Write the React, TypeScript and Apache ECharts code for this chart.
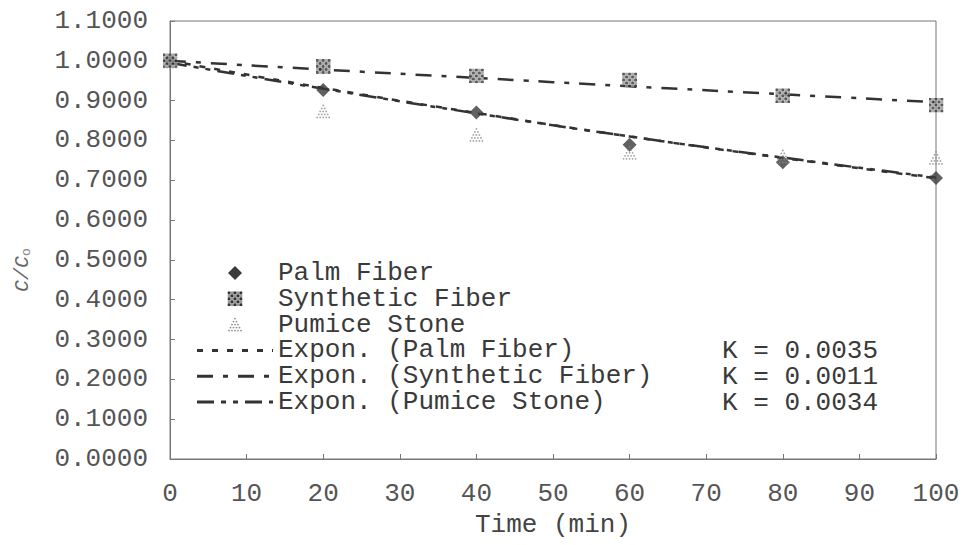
import React, { useEffect, useRef } from "react";
import * as echarts from "echarts";

// ---- data ----
const times = [0, 20, 40, 60, 80, 100];
const palmFiber = [1.0, 0.927, 0.87, 0.789, 0.745, 0.706];
const syntheticFiber = [1.0, 0.986, 0.962, 0.952, 0.912, 0.889];
const pumiceStone = [0.998, 0.873, 0.814, 0.769, 0.76, 0.756];
// exponential trend lines, as drawn in the reference
const palmTrend = [1.0, 0.932, 0.869, 0.81, 0.756, 0.705];
const syntheticTrend = [1.0, 0.978, 0.957, 0.936, 0.916, 0.896];
const pumiceTrend = [0.995, 0.93, 0.868, 0.81, 0.757, 0.707];
const kLabels = ["K = 0.0035", "K = 0.0011", "K = 0.0034"];
const seriesNames = [
  "Palm Fiber",
  "Synthetic Fiber",
  "Pumice Stone",
  "Expon. (Palm Fiber)",
  "Expon. (Synthetic Fiber)",
  "Expon. (Pumice Stone)",
];

const FONT = "'Liberation Mono', 'DejaVu Sans Mono', monospace";
const LINE_COLOR = "#333";
const DASH_PALM = [6, 9];
const DASH_SYN = [16, 10, 5, 10];
const DASH_PUM = [17, 7, 5, 7, 5, 7];

function svgData(svg: string) {
  return "data:image/svg+xml;utf8," + encodeURIComponent(svg);
}

function checkerSvg() {
  let cells = "";
  for (let i = 0; i < 5; i++) {
    for (let j = 0; j < 5; j++) {
      const dark = (i + j) % 2 === 0;
      cells += `<circle cx="${j * 3 + 1.5}" cy="${i * 3 + 1.5}" r="1.55" fill="${dark ? "#333" : "#9a9a9a"}"/>`;
    }
  }
  return svgData(
    `<svg xmlns="http://www.w3.org/2000/svg" width="15" height="15" viewBox="0 0 15 15"><rect width="15" height="15" fill="#bdbdbd"/>${cells}</svg>`
  );
}

function dottedTriangleSvg() {
  let dots = "";
  for (let r = 0; r < 5; r++) {
    for (let k = 0; k <= r; k++) {
      const cx = 7.5 - r * 1.5 + k * 3;
      const cy = 1.5 + r * 3;
      dots += `<circle cx="${cx}" cy="${cy}" r="0.9" fill="#8a8a8a"/>`;
    }
  }
  return svgData(
    `<svg xmlns="http://www.w3.org/2000/svg" width="15" height="15" viewBox="0 0 15 15">${dots}</svg>`
  );
}

function pairs(ys: number[]) {
  return times.map((t, i) => [t, ys[i]]);
}

export default function App() {
  const ref = useRef<HTMLDivElement>(null);
  useEffect(() => {
    document.body.style.margin = "0";
    if (!ref.current) return;
    const chart = echarts.init(ref.current, undefined, { renderer: "svg" });
    const checker = checkerSvg();
    const triangle = dottedTriangleSvg();

    // legend drawn as graphic elements
    const legendX = 197;
    const legendW = 76;
    const legendTop = 273;
    const rowH = 25.8;
    const markerCx = legendX + legendW / 2;
    const legendGraphics: any[] = [];
    seriesNames.forEach((name, i) => {
      const cy = legendTop + i * rowH;
      legendGraphics.push({
        type: "text",
        x: legendX + legendW + 5,
        y: cy,
        style: { text: name, fontFamily: FONT, fontSize: 26, fill: "#3a3a3a", verticalAlign: "middle" },
      });
    });
    legendGraphics.push({
      type: "polygon",
      shape: {
        points: [
          [markerCx, legendTop - 7],
          [markerCx + 7, legendTop],
          [markerCx, legendTop + 7],
          [markerCx - 7, legendTop],
        ],
      },
      style: { fill: "#3a3a3a" },
    });
    legendGraphics.push({
      type: "image",
      style: { image: checker, x: markerCx - 7.5, y: legendTop + rowH - 7.5, width: 15, height: 15 },
    });
    legendGraphics.push({
      type: "image",
      style: { image: triangle, x: markerCx - 7.5, y: legendTop + 2 * rowH - 7.5, width: 15, height: 15 },
    });
    [DASH_PALM, DASH_SYN, DASH_PUM].forEach((dash, k) => {
      const cy = legendTop + (3 + k) * rowH;
      legendGraphics.push({
        type: "line",
        shape: { x1: legendX, y1: cy, x2: legendX + legendW, y2: cy },
        style: { stroke: LINE_COLOR, lineWidth: 3, lineDash: dash },
      });
    });

    const option: any = {
      animation: false,
      backgroundColor: "#fff",
      grid: {
        left: 170,
        right: 31,
        top: 21,
        bottom: 86,
        show: true,
        borderColor: "#777",
        borderWidth: 1,
      },
      xAxis: {
        type: "value",
        min: 0,
        max: 100,
        interval: 10,
        name: "Time (min)",
        nameLocation: "middle",
        nameGap: 52,
        nameTextStyle: { fontFamily: FONT, fontSize: 26, color: "#444" },
        axisLine: { show: true, lineStyle: { color: "#777", width: 1 } },
        axisTick: { show: true, inside: true, length: 5, lineStyle: { color: "#777" } },
        axisLabel: { fontFamily: FONT, fontSize: 26, color: "#555", margin: 22 },
        splitLine: { show: false },
      },
      yAxis: {
        type: "value",
        min: 0,
        max: 1.1,
        interval: 0.1,
        axisLine: { show: true, lineStyle: { color: "#777", width: 1 } },
        axisTick: { show: true, inside: true, length: 5, lineStyle: { color: "#777" } },
        axisLabel: {
          fontFamily: FONT,
          fontSize: 26,
          color: "#555",
          margin: 22,
          formatter: (v: number) => v.toFixed(4),
        },
        splitLine: { show: false },
      },
      graphic: [
        ...legendGraphics,
        ...kLabels.map((k, i) => ({
          type: "text",
          x: 722,
          y: 351 + i * rowH,
          style: {
            text: k,
            fontFamily: FONT,
            fontSize: 26,
            fill: "#3a3a3a",
            verticalAlign: "middle",
          },
        })),
        {
          type: "text",
          x: 22,
          y: 270,
          rotation: Math.PI / 2,
          style: {
            text: "{i|C/C}{s|o}",
            align: "center",
            verticalAlign: "middle",
            rich: {
              i: { fontFamily: FONT, fontSize: 20, fontStyle: "italic", fill: "#666" },
              s: { fontFamily: FONT, fontSize: 13, fill: "#888", padding: [8, 0, 0, 0] },
            },
          },
        },
      ],
      series: [
        {
          name: seriesNames[0],
          type: "scatter",
          data: pairs(palmFiber),
          symbol: "diamond",
          symbolSize: 14,
          itemStyle: { color: "#3a3a3a" },
          z: 5,
        },
        {
          name: seriesNames[1],
          type: "scatter",
          data: pairs(syntheticFiber),
          symbol: "image://" + checker,
          symbolSize: 15,
          z: 5,
        },
        {
          name: seriesNames[2],
          type: "scatter",
          data: pairs(pumiceStone),
          symbol: "image://" + triangle,
          symbolSize: 15,
          z: 5,
        },
        {
          name: seriesNames[3],
          type: "line",
          data: pairs(palmTrend),
          showSymbol: false,
          symbol: "none",
          smooth: true,
          lineStyle: { color: LINE_COLOR, width: 2.5, type: DASH_PALM },
          z: 3,
        },
        {
          name: seriesNames[4],
          type: "line",
          data: pairs(syntheticTrend),
          showSymbol: false,
          symbol: "none",
          smooth: true,
          lineStyle: { color: LINE_COLOR, width: 2.5, type: DASH_SYN },
          z: 3,
        },
        {
          name: seriesNames[5],
          type: "line",
          data: pairs(pumiceTrend),
          showSymbol: false,
          symbol: "none",
          smooth: true,
          lineStyle: { color: LINE_COLOR, width: 2.5, type: DASH_PUM },
          z: 3,
        },
      ],
    };
    chart.setOption(option);
    return () => chart.dispose();
  }, []);
  return <div ref={ref} style={{ width: 967, height: 545 }} />;
}
